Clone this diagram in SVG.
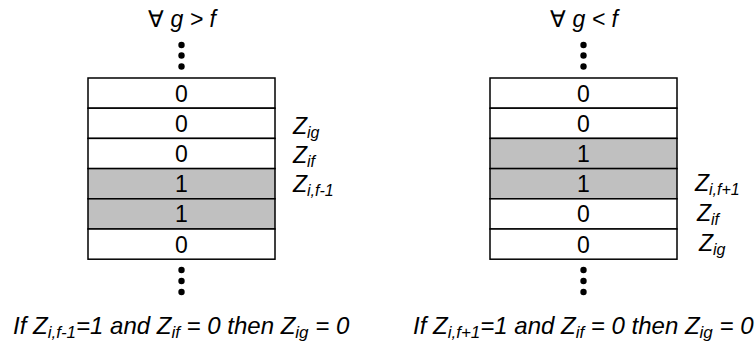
<svg xmlns="http://www.w3.org/2000/svg" width="756" height="347" viewBox="0 0 756 347">
<style>
.cell{stroke:#000;stroke-width:1.5;fill:#fff}
.on{fill:#c0c0c0}
.dot{fill:#000}
.it{font-style:italic;font-size:23px}
.cap{font-style:italic;font-size:24px}
.sub{font-size:16px}
.csub{font-size:17px}
</style>
<g font-family="Liberation Sans, Arial, sans-serif">
<g id="left-title"><text class="it" x="182" y="27" text-anchor="middle"><tspan font-style="normal">∀</tspan> g &gt; f</text></g>
<g id="left-dots-top"><circle class="dot" cx="181.5" cy="45" r="3.2"/><circle class="dot" cx="181.5" cy="55.5" r="3.2"/><circle class="dot" cx="181.5" cy="66.5" r="3.2"/></g>
<g id="left-table" font-size="23" text-anchor="middle">
<rect class="cell" x="88" y="78" width="187" height="30.2"/>
<rect class="cell" x="88" y="108.2" width="187" height="30.2"/>
<rect class="cell" x="88" y="138.4" width="187" height="30.2"/>
<rect class="cell on" x="88" y="168.6" width="187" height="30.2"/>
<rect class="cell on" x="88" y="198.8" width="187" height="30.2"/>
<rect class="cell" x="88" y="229" width="187" height="30.2"/>
<text x="181.5" y="101.5">0</text>
<text x="181.5" y="131.7">0</text>
<text x="181.5" y="161.9">0</text>
<text x="181.5" y="192.1">1</text>
<text x="181.5" y="222.3">1</text>
<text x="181.5" y="252.5">0</text>
</g>
<g id="left-dots-bottom"><circle class="dot" cx="181.5" cy="270" r="3.2"/><circle class="dot" cx="181.5" cy="281" r="3.2"/><circle class="dot" cx="181.5" cy="292" r="3.2"/></g>
<g id="left-labels">
<text class="it" x="293" y="134">Z<tspan class="sub" dy="4">ig</tspan></text>
<text class="it" x="293" y="163">Z<tspan class="sub" dy="4">if</tspan></text>
<text class="it" x="293" y="192">Z<tspan class="sub" dy="4">i,f-1</tspan></text>
</g>
<g id="left-caption"><text class="cap" x="13" y="334">If Z<tspan class="csub" dy="4">i,f-1</tspan><tspan dy="-4">=1 and Z</tspan><tspan class="csub" dy="4">if</tspan><tspan dy="-4"> = 0 then Z</tspan><tspan class="csub" dy="4">ig</tspan><tspan dy="-4"> = 0</tspan></text></g>

<g id="right-title"><text class="it" x="584" y="27" text-anchor="middle"><tspan font-style="normal">∀</tspan> g &lt; f</text></g>
<g id="right-dots-top"><circle class="dot" cx="583.5" cy="45" r="3.2"/><circle class="dot" cx="583.5" cy="55.5" r="3.2"/><circle class="dot" cx="583.5" cy="66.5" r="3.2"/></g>
<g id="right-table" font-size="23" text-anchor="middle">
<rect class="cell" x="490" y="78" width="187" height="30.2"/>
<rect class="cell" x="490" y="108.2" width="187" height="30.2"/>
<rect class="cell on" x="490" y="138.4" width="187" height="30.2"/>
<rect class="cell on" x="490" y="168.6" width="187" height="30.2"/>
<rect class="cell" x="490" y="198.8" width="187" height="30.2"/>
<rect class="cell" x="490" y="229" width="187" height="30.2"/>
<text x="583.5" y="101.5">0</text>
<text x="583.5" y="131.7">0</text>
<text x="583.5" y="161.9">1</text>
<text x="583.5" y="192.1">1</text>
<text x="583.5" y="222.3">0</text>
<text x="583.5" y="252.5">0</text>
</g>
<g id="right-dots-bottom"><circle class="dot" cx="583.5" cy="270" r="3.2"/><circle class="dot" cx="583.5" cy="281" r="3.2"/><circle class="dot" cx="583.5" cy="292" r="3.2"/></g>
<g id="right-labels">
<text class="it" x="695" y="191">Z<tspan class="sub" dy="4">i,f+1</tspan></text>
<text class="it" x="697" y="221">Z<tspan class="sub" dy="4">if</tspan></text>
<text class="it" x="699" y="251">Z<tspan class="sub" dy="4">ig</tspan></text>
</g>
<g id="right-caption"><text class="cap" x="413" y="334">If Z<tspan class="csub" dy="4">i,f+1</tspan><tspan dy="-4">=1 and Z</tspan><tspan class="csub" dy="4">if</tspan><tspan dy="-4"> = 0 then Z</tspan><tspan class="csub" dy="4">ig</tspan><tspan dy="-4"> = 0</tspan></text></g>
</g>
</svg>
